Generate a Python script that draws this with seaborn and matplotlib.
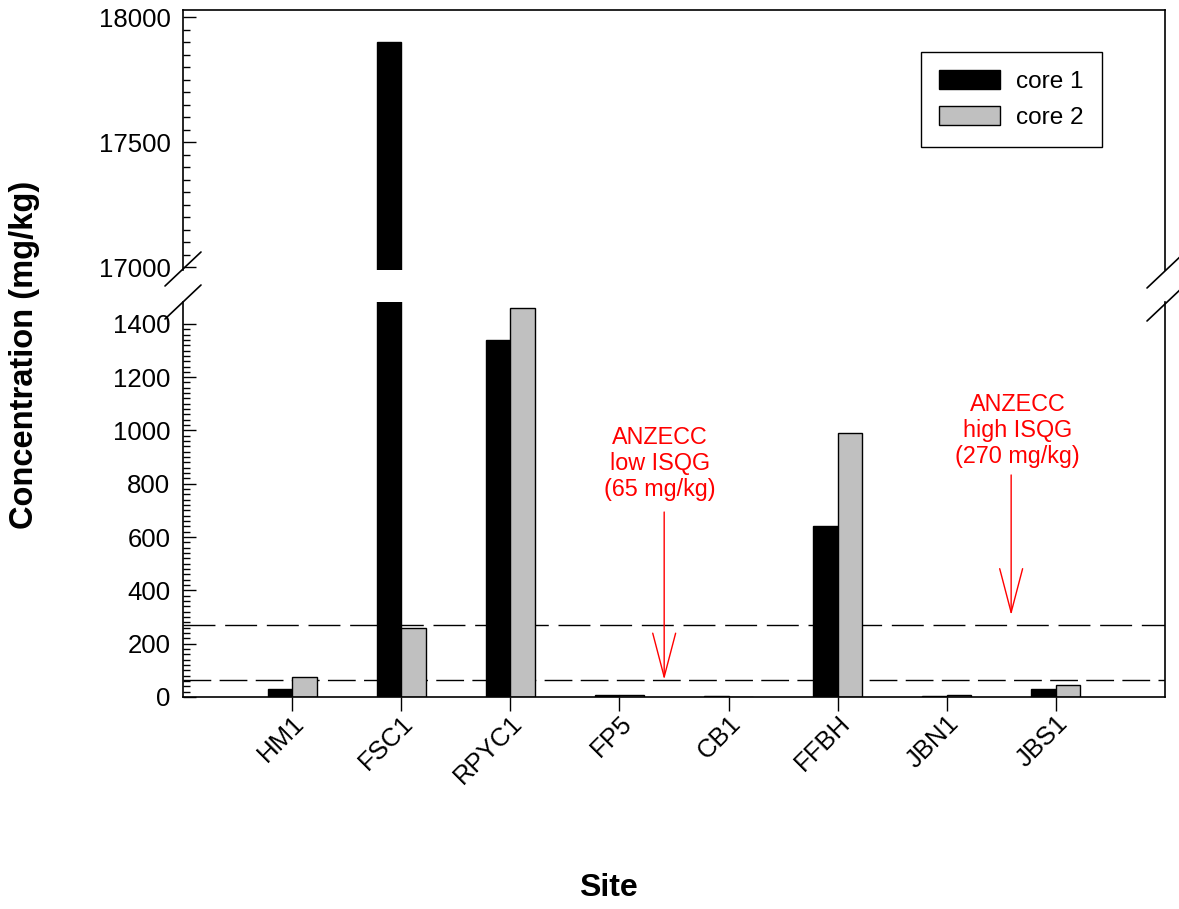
import numpy as np
import pandas as pd
import matplotlib
matplotlib.use("Agg")
import matplotlib.pyplot as plt
import seaborn as sns
from matplotlib.ticker import MultipleLocator
from matplotlib.patches import Patch
from matplotlib.lines import Line2D

sites = ["HM1", "FSC1", "RPYC1", "FP5", "CB1", "FFBH", "JBN1", "JBS1"]
core1 = [30, 17900, 1340, 9, 5, 642, 4, 29]
core2 = [75, 259, 1460, 6, 0, 990, 9, 44]
series = ["core 1", "core 2"]
colors = ["black", "#c0c0c0"]
low_isqg = 65
high_isqg = 270

df = pd.DataFrame({
    "Site": sites * 2,
    "Concentration": core1 + core2,
    "Core": [series[0]] * len(sites) + [series[1]] * len(sites),
})

sns.set_theme(style="white")
plt.rcParams["font.family"] = ["Liberation Sans", "DejaVu Sans"]
plt.rcParams["text.color"] = "black"
plt.rcParams["axes.labelcolor"] = "black"
plt.rcParams["xtick.color"] = "black"
plt.rcParams["ytick.color"] = "black"

fig = plt.figure(figsize=(11.79, 9.09), dpi=100)
L, W = 183 / 1179, 982 / 1179
ax_top = fig.add_axes([L, 1 - 270 / 909, W, 260 / 909])
ax_bot = fig.add_axes([L, 1 - 697 / 909, W, 395 / 909])

for ax in (ax_top, ax_bot):
    sns.barplot(data=df, x="Site", y="Concentration", hue="Core", order=sites,
                hue_order=series, palette=colors, width=0.45, gap=0,
                edgecolor="black", linewidth=1, saturation=1, ax=ax, legend=False)
    ax.set_xlim(-1, 8)
    ax.set_xlabel("")
    ax.set_ylabel("")
    for s in ax.spines.values():
        s.set_color("black")
        s.set_linewidth(1.2)

TICK_FS = 18.5

# top axis
ax_top.set_ylim(16990, 18028)
ax_top.spines["bottom"].set_visible(False)
ax_top.set_xticks([])
ax_top.yaxis.set_major_locator(MultipleLocator(500))
ax_top.yaxis.set_minor_locator(MultipleLocator(50))
ax_top.tick_params(axis="y", which="major", direction="in", length=9, width=1,
                   labelsize=TICK_FS, pad=9, left=True, right=False, colors="black")
ax_top.tick_params(axis="y", which="minor", direction="in", length=5, width=1,
                   left=True, right=False, colors="black")

# bottom axis
ax_bot.set_ylim(0, 1482)
ax_bot.spines["top"].set_visible(False)
ax_bot.set_yticks(np.arange(0, 1401, 200))
ax_bot.set_yticks(np.arange(0, 1401, 20), minor=True)
ax_bot.tick_params(axis="y", which="major", direction="in", length=9, width=1,
                   labelsize=TICK_FS, pad=9, left=True, right=False, colors="black")
ax_bot.tick_params(axis="y", which="minor", direction="in", length=5, width=1,
                   left=True, right=False, colors="black")
ax_bot.tick_params(axis="x", which="major", direction="out", length=10, width=1,
                   labelsize=TICK_FS, pad=0, bottom=True, colors="black")
for lbl in ax_bot.get_xticklabels():
    lbl.set_rotation(45)
    lbl.set_ha("right")
    lbl.set_rotation_mode("anchor")

# guideline lines
ax_bot.axhline(high_isqg, color="black", lw=1, linestyle=(0, (23, 7)), zorder=0.5)
ax_bot.axhline(low_isqg, color="black", lw=1, linestyle=(0, (20, 6)), zorder=0.5)

red = "#ff0000"
arrow = dict(arrowstyle="->,head_length=2.1,head_width=0.55", color=red, lw=1,
             mutation_scale=15, shrinkA=0, shrinkB=0)
ax_bot.annotate("", xy=(3.41, low_isqg), xytext=(3.41, 694), arrowprops=arrow)
ax_bot.annotate("", xy=(6.59, 307), xytext=(6.59, 833), arrowprops=arrow)
ax_bot.text(3.37, 877, "ANZECC\nlow ISQG\n(65 mg/kg)", color=red, fontsize=16.8,
            ha="center", va="center", linespacing=1.17)
ax_bot.text(6.65, 1001, "ANZECC\nhigh ISQG\n(270 mg/kg)", color=red, fontsize=16.8,
            ha="center", va="center", linespacing=1.17)

# break marks
def slash(xc, yc):
    fig.add_artist(Line2D([xc - 18 / 1179, xc + 18 / 1179],
                          [yc - 17 / 909, yc + 17 / 909],
                          transform=fig.transFigure, color="black", lw=1.2))

slash(L, 1 - 269 / 909)
slash(L, 1 - 302 / 909)
slash(L + W, 1 - 271 / 909)
slash(L + W, 1 - 304 / 909)

# legend
handles = [Patch(facecolor=c, edgecolor="black", linewidth=1, label=s)
           for c, s in zip(colors, series)]
leg = ax_top.legend(handles=handles, loc="upper left",
                    bbox_to_anchor=((921 - 183) / 982, (270 - 52) / 260),
                    fontsize=17.6, frameon=True, fancybox=False, framealpha=1,
                    edgecolor="black", borderpad=0.75, handlelength=2.5,
                    handleheight=0.82, handletextpad=0.65, labelspacing=0.52,
                    borderaxespad=0)
leg.get_frame().set_linewidth(1)

fig.text(25 / 1179, 1 - 355 / 909, "Concentration (mg/kg)", rotation=90,
         ha="center", va="center", fontsize=23.5, fontweight="bold")
fig.text(608 / 1179, 1 - 888 / 909, "Site", ha="center", va="center",
         fontsize=23, fontweight="bold")

fig.savefig("out.png", dpi=100)
